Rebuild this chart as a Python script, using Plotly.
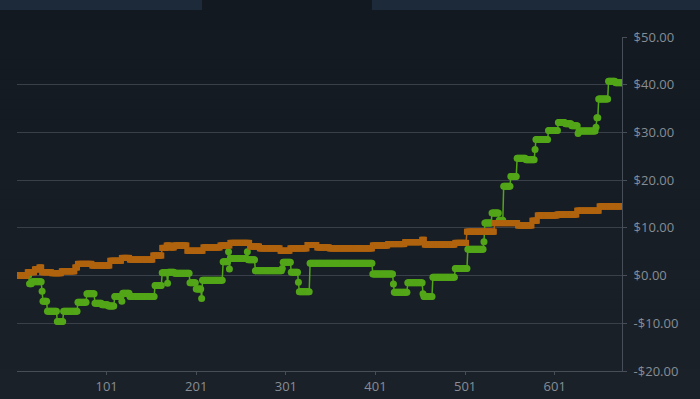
import numpy as np
import plotly.graph_objects as go

# ---- data (run-length encoded step series: start index, value) ----
N_LAST = 676

green_starts = [1, 15, 18, 29, 30, 35, 46, 53, 69, 79, 88, 96, 103, 110, 118, 119, 127, 155,
                163, 169, 170, 177, 194, 201, 207, 208, 231, 237, 238, 239, 258, 259, 267,
                297, 298, 307, 315, 316, 328, 398, 421, 422, 437, 454, 455, 465, 490, 504,
                522, 523, 531, 539, 544, 552, 559, 569, 579, 580, 594, 605, 613, 620, 627,
                628, 647, 648, 650, 661, 669]
green_values = [0.0, -1.7, -1.3, -3.3, -5.4, -7.5, -9.6, -7.5, -5.6, -3.8, -5.8, -6.1, -6.4,
                -4.4, -5.4, -3.7, -4.4, -2.1, 0.6, -1.6, 0.7, 0.5, -1.5, -2.8, -4.8, -1.0,
                2.9, 5.0, 1.4, 3.6, 5.0, 3.3, 1.0, 1.5, 2.8, 0.7, -1.4, -3.4, 2.6, 0.35,
                -1.75, -3.5, -1.5, -3.8, -4.4, -0.35, 1.5, 5.5, 7.1, 11.0, 13.1, 11.6, 18.7,
                20.75, 24.6, 24.3, 26.4, 28.5, 30.4, 32.1, 31.8, 31.4, 29.8, 30.3, 31.1,
                33.1, 37.0, 40.7, 40.4]

orange_starts = [1, 13, 21, 26, 29, 40, 51, 66, 69, 85, 105, 118, 127, 153, 163, 168, 172,
                 177, 191, 209, 228, 239, 261, 272, 295, 306, 325, 336, 350, 398, 415, 434,
                 453, 456, 490, 503, 534, 560, 576, 582, 604, 626, 651]
orange_values = [0.0, 0.7, 1.3, 1.7, 0.7, 0.5, 0.9, 1.7, 2.45, 2.1, 3.1, 3.7, 3.35, 4.2,
                 5.8, 6.3, 5.9, 6.3, 5.2, 5.9, 6.3, 6.85, 6.1, 5.7, 5.2, 5.7, 6.4, 5.9, 5.7,
                 6.3, 6.6, 7.0, 7.5, 6.5, 6.85, 9.2, 11.0, 10.5, 11.5, 12.6, 12.8, 13.6, 14.5]

x_tickvals = [101, 201, 301, 401, 501, 601]
y_tickvals = [-20, -10, 0, 10, 20, 30, 40, 50]
y_ticktext = ["-$20.00", "-$10.00", "$0.00", "$10.00", "$20.00", "$30.00", "$40.00", "$50.00"]


def expand(starts, values, last):
    lengths = np.diff(np.array(starts + [last + 1]))
    return np.repeat(np.array(values, dtype=float), lengths)


x = np.arange(1, N_LAST + 1)
green_y = expand(green_starts, green_values, N_LAST)
orange_y = expand(orange_starts, orange_values, N_LAST)

W, H = 700, 399
ML, MR, MT, MB = 17, 78, 37, 28
PW, PH = W - ML - MR, H - MT - MB


def px_x(p):
    return (p - ML) / PW


def px_y(p):
    return (H - MB - p) / PH


fig = go.Figure()
fig.add_trace(go.Scatter(
    x=x, y=green_y, mode="lines+markers",
    line=dict(color="#52a618", width=1.5),
    marker=dict(color="#52a618", size=7, symbol="circle"),
    hoverinfo="skip", showlegend=False))
fig.add_trace(go.Scatter(
    x=x, y=orange_y, mode="lines+markers",
    line=dict(color="#b0630e", width=1.5),
    marker=dict(color="#b0630e", size=6, symbol="square"),
    hoverinfo="skip", showlegend=False))

# background gradient bands
shapes = []
top_c = np.array([0x12, 0x19, 0x21])
bot_c = np.array([0x1b, 0x21, 0x29])
nb = 40
for k in range(nb):
    t = k / (nb - 1)
    c = (top_c + (bot_c - top_c) * t).round().astype(int)
    y0 = k * H / nb
    y1 = (k + 1) * H / nb + 1
    shapes.append(dict(type="rect", xref="paper", yref="paper",
                       x0=px_x(-2), x1=px_x(W + 2), y0=px_y(y1), y1=px_y(y0),
                       fillcolor="rgb(%d,%d,%d)" % tuple(c), line=dict(width=0), layer="below"))
# top tabs
for a, b in [(0, 202), (372, 700)]:
    shapes.append(dict(type="rect", xref="paper", yref="paper",
                       x0=px_x(a), x1=px_x(b), y0=px_y(10), y1=px_y(0),
                       fillcolor="#1d2a3a", line=dict(width=0), layer="below"))

axis_col = "#474e57"
fig.update_layout(
    template="none",
    width=W, height=H,
    margin=dict(l=ML, r=MR, t=MT, b=MB),
    paper_bgcolor="#161d25",
    plot_bgcolor="rgba(0,0,0,0)",
    shapes=shapes,
    showlegend=False,
    font=dict(family="Open Sans", size=13, color="#868d95"),
    xaxis=dict(range=[1, N_LAST], tickvals=x_tickvals, showgrid=False, zeroline=False,
               automargin=False,
               showline=True, linecolor=axis_col, linewidth=1,
               ticks="outside", ticklen=3, tickcolor=axis_col),
    yaxis=dict(range=[-20, 50], side="right", tickvals=y_tickvals, ticktext=y_ticktext,
               automargin=False, ticklabelstandoff=4,
               showgrid=True, gridcolor="#39404a", gridwidth=1, zeroline=False,
               showline=True, linecolor=axis_col, linewidth=1,
               ticks="outside", ticklen=4, tickcolor=axis_col),
)

fig.write_html("out.html")
